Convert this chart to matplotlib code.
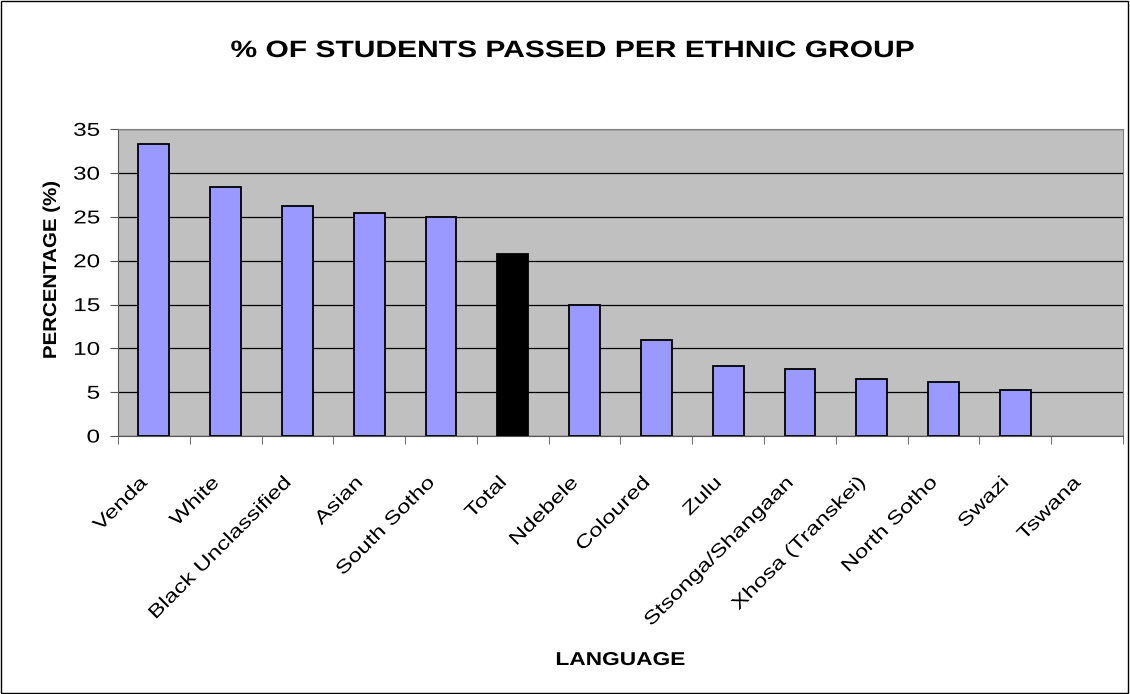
import matplotlib.pyplot as plt
from matplotlib.patches import Rectangle
from matplotlib.patheffects import AbstractPathEffect
from matplotlib.transforms import Affine2D, ScaledTranslation

plt.rcParams['font.family'] = ['Liberation Sans', 'DejaVu Sans']

groups = ["Venda", "White", "Black Unclassified", "Asian", "South Sotho", "Total",
          "Ndebele", "Coloured", "Zulu", "Stsonga/Shangaan", "Xhosa (Transkei)",
          "North Sotho", "Swazi", "Tswana"]
passed_pct = [33.3, 28.4, 26.3, 25.4, 25.0, 20.8, 15.0, 11.0, 8.0, 7.6, 6.5, 6.2, 5.3, 0]
bar_colors = ["black" if g == "Total" else "#9999FF" for g in groups]


class Widen(AbstractPathEffect):
    # the source chart has very loose letter spacing; widen glyphs around the anchor
    def __init__(self, sx, anchor="left"):
        super().__init__()
        self.sx = sx
        self.anchor = anchor

    def draw_path(self, renderer, gc, tpath, affine, rgbFace=None):
        ext = tpath.get_extents()
        if self.anchor == "right":
            x0 = ext.x1
        elif self.anchor == "center":
            x0 = 0.5 * (ext.x0 + ext.x1)
        else:
            x0 = 0
        t = Affine2D().translate(-x0, 0).scale(self.sx, 1).translate(x0, 0)
        renderer.draw_path(gc, tpath, t + affine, rgbFace)


W, H = 1130, 694
fig = plt.figure(figsize=(W / 100, H / 100), dpi=100)
ax = fig.add_axes([118 / W, 1 - 436 / H, (1123 - 118) / W, (436 - 129.3) / H])
ax.set_facecolor("#C0C0C0")

x = range(len(groups))
edge_widths = [1.3 if v > 0 else 0 for v in passed_pct]
ax.bar(x, passed_pct, width=0.43, color=bar_colors, edgecolor="black", linewidth=edge_widths, zorder=3)

ax.set_ylim(0, 35)
ax.set_xlim(-0.5, len(groups) - 0.5)
ax.set_yticks(range(0, 36, 5))
ax.yaxis.grid(True, color="black", linewidth=0.9, zorder=1)
ax.set_axisbelow(True)

# category labels under the bars, tick marks between categories
ax.set_xticks(list(x))
ax.set_xticklabels(groups, rotation=45, ha="right", va="center", rotation_mode="anchor", fontsize=13.4)
ax.tick_params(axis="x", length=0, pad=32)
ax.set_xticks([i + 0.5 for i in range(-1, len(groups))], minor=True)
ax.tick_params(axis="x", which="minor", length=5.8, direction="out", color="#555555")
ax.tick_params(axis="y", labelsize=13.4, length=5.8, pad=7.2, direction="out", color="#555555")

shift = ScaledTranslation(-0.09, 0, fig.dpi_scale_trans)
for lbl in ax.get_xticklabels():
    lbl.set_transform(lbl.get_transform() + shift)
    lbl.set_path_effects([Widen(1.28, "right")])
for lbl in ax.get_yticklabels():
    lbl.set_path_effects([Widen(1.3, "right")])

for side in ["top", "right"]:
    ax.spines[side].set_color("#808080")
ax.spines["left"].set_color("#555555")
ax.spines["bottom"].set_color("#555555")

fig.text(56 / W, 1 - 270 / H, "PERCENTAGE (%)", fontsize=13.4, fontweight="bold", rotation=90,
         rotation_mode="anchor", ha="center", va="baseline",
         path_effects=[Widen(1.1, "center")])
fig.text(620.5 / W, 1 - 665 / H, "LANGUAGE", fontsize=13.4, fontweight="bold",
         ha="center", va="baseline", path_effects=[Widen(1.22, "center")])
fig.text(573 / W, 1 - 57 / H, "% OF STUDENTS PASSED PER ETHNIC GROUP", fontsize=17,
         fontweight="bold", ha="center", va="baseline", path_effects=[Widen(1.27, "center")])

fig.patches.append(Rectangle((0.001, 0.002), 0.997, 0.996, transform=fig.transFigure,
                             fill=False, edgecolor="black", linewidth=1))

plt.savefig("out.png", dpi=100)
plt.close()
